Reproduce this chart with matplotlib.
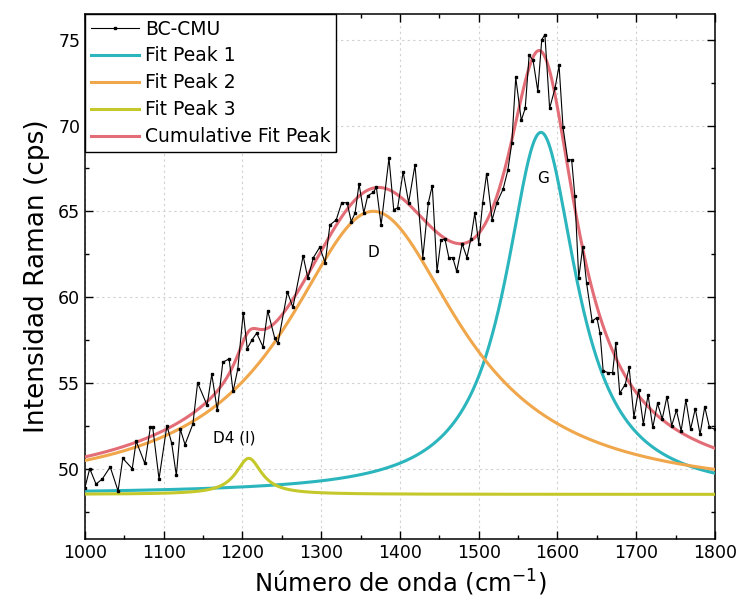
import numpy as np
import matplotlib
matplotlib.use("Agg")
import matplotlib.pyplot as plt
from matplotlib.ticker import MultipleLocator

# measured spectrum BC-CMU
wn = [1000, 1006, 1014, 1022, 1032, 1042, 1048, 1060, 1065, 1076, 1083, 1086,
      1094, 1104, 1110, 1116, 1121, 1127, 1137, 1143, 1155, 1161, 1168, 1175,
      1183, 1188, 1194, 1201, 1206, 1212, 1218, 1226, 1232, 1241, 1245, 1257,
      1264, 1277, 1283, 1290, 1298, 1305, 1311, 1319, 1326, 1333, 1338, 1343,
      1348, 1354, 1359, 1366, 1370, 1376, 1386, 1392, 1397, 1404, 1411, 1419,
      1429, 1436, 1441, 1447, 1452, 1457, 1462, 1467, 1472, 1479, 1485, 1490,
      1495, 1500, 1505, 1510, 1517, 1523, 1531, 1537, 1542, 1547, 1554, 1559,
      1564, 1569, 1575, 1580, 1584, 1590, 1597, 1602, 1607, 1613, 1618, 1622,
      1627, 1632, 1637, 1644, 1650, 1654, 1658, 1664, 1670, 1674, 1679, 1686,
      1691, 1697, 1703, 1709, 1715, 1721, 1727, 1733, 1739, 1745, 1751, 1757,
      1763, 1769, 1775, 1781, 1787, 1793, 1800]
intensity = [48.9, 50.0, 49.1, 49.4, 50.1, 48.7, 50.6, 50.0, 51.6, 50.3, 52.4, 52.4,
             49.4, 52.5, 51.5, 49.6, 52.3, 51.4, 52.6, 55.0, 53.7, 55.5, 53.4, 56.2,
             56.4, 54.5, 55.8, 59.1, 57.0, 57.5, 57.9, 57.1, 59.2, 57.6, 57.3, 60.3,
             59.4, 62.4, 61.1, 62.3, 62.9, 62.0, 64.2, 64.5, 65.5, 65.5, 64.4, 64.9,
             66.6, 64.9, 65.9, 66.1, 66.4, 64.2, 68.1, 65.1, 65.2, 67.3, 65.5, 67.7,
             62.3, 65.5, 66.5, 61.5, 63.3, 63.4, 62.3, 62.3, 61.5, 63.1, 62.3, 63.4,
             64.9, 63.1, 65.5, 67.2, 64.5, 65.5, 66.3, 67.4, 69.0, 72.8, 70.3, 71.0,
             74.1, 73.8, 72.0, 75.0, 75.3, 71.0, 72.2, 73.5, 69.9, 68.0, 68.0, 65.9,
             61.1, 62.9, 60.8, 58.6, 58.8, 57.9, 55.7, 55.6, 55.6, 57.3, 54.4, 54.9,
             55.9, 53.0, 54.6, 52.6, 54.3, 52.4, 53.8, 52.9, 54.2, 52.5, 53.4, 52.2,
             54.0, 52.3, 53.5, 52.0, 53.6, 52.4, 52.3]

# Lorentzian fit results: G, D, D4 (I)
baseline = 48.5
centers = [1579, 1366, 1208]
heights = [21.1, 16.5, 2.1]
hwhm = [55, 135, 20]
peak_labels = ["Fit Peak 1", "Fit Peak 2", "Fit Peak 3"]
peak_colors = ["#2bb5bd", "#f0a64a", "#c4c82a"]

def lorentz(x, c, a, w):
    return a / (1 + ((x - c) / w) ** 2)

x = np.linspace(1000, 1800, 801)
peaks = [lorentz(x, c, a, w) for c, a, w in zip(centers, heights, hwhm)]
cumulative = baseline + sum(peaks)

fig = plt.figure(figsize=(7.43, 5.98), dpi=100)
ax = fig.add_axes([0.1144, 0.0987, 0.8479, 0.8779])

ax.plot(wn, intensity, color="black", lw=0.8, marker="s", ms=1.6,
        label="BC-CMU", zorder=5)
for p, lab, col in zip(peaks, peak_labels, peak_colors):
    ax.plot(x, baseline + p, color=col, lw=2.2, label=lab, zorder=3)
ax.plot(x, cumulative, color="#e36d76", lw=2.2, label="Cumulative Fit Peak", zorder=4)

ax.text(1366, 62.6, "D", fontsize=11, ha="center", va="center")
ax.text(1582, 66.9, "G", fontsize=11, ha="center", va="center")
ax.text(1190, 51.8, "D4 (I)", fontsize=11, ha="center", va="center")

ax.set_xlim(1000, 1800)
ax.set_ylim(45.9, 76.5)
ax.xaxis.set_major_locator(MultipleLocator(100))
ax.xaxis.set_minor_locator(MultipleLocator(50))
ax.yaxis.set_major_locator(MultipleLocator(5))
ax.yaxis.set_minor_locator(MultipleLocator(2.5))
ax.tick_params(which="both", direction="in", top=True, right=True,
               labelsize=12.5, width=1)
ax.tick_params(which="major", length=6)
ax.tick_params(which="minor", length=3)
ax.grid(which="major", color="#d0d0d0", ls=(0, (2, 3)), lw=0.8)
for s in ax.spines.values():
    s.set_linewidth(1.1)

ax.set_xlabel("Número de onda (cm$^{-1}$)", fontsize=17.5)
ax.set_ylabel("Intensidad Raman (cps)", fontsize=19, labelpad=6)

leg = ax.legend(loc="upper left", bbox_to_anchor=(0, 1), borderaxespad=0,
                fancybox=False, edgecolor="black", framealpha=1,
                fontsize=13.5, handlelength=2.6, handletextpad=0.3,
                labelspacing=0.42, borderpad=0.3)
leg.get_frame().set_linewidth(1.0)

fig.savefig("out.png", dpi=100)
